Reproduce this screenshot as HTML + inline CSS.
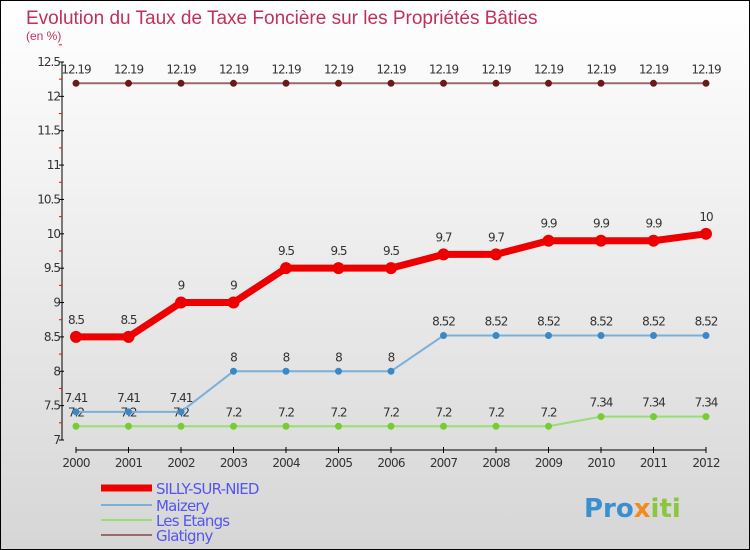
<!DOCTYPE html>
<html><head><meta charset="utf-8"><style>
body{margin:0;}
#c{width:748px;height:548px;border:1px solid #000;background:linear-gradient(#fff,#f3f3f3 30%,#d6d6d6);position:relative;font-family:"DejaVu Sans","Liberation Sans",sans-serif;overflow:hidden}
</style></head><body>
<div id="c">
<svg id="s" width="748" height="548">
<text x="25" y="23" font-size="19" fill="#c0305a" font-family="Liberation Sans">Evolution du Taux de Taxe Foncière sur les Propriétés Bâties</text>
<text x="25" y="39" font-size="12" fill="#c0305a" font-family="Liberation Sans">(en %)</text>
<g id="ax"></g><g id="ser"></g><g id="leg"></g>
<text x="583" y="516" font-size="26" font-weight="bold" fill="#3a8fd0">Pro<tspan fill="#f08c1e">x</tspan><tspan fill="#8cc63e">iti</tspan></text>
</svg></div>
<script>
const years=[2000,2001,2002,2003,2004,2005,2006,2007,2008,2009,2010,2011,2012];
const yTicks=[7,7.5,8,8.5,9,9.5,10,10.5,11,11.5,12,12.5];
const silly=[8.5,8.5,9,9,9.5,9.5,9.5,9.7,9.7,9.9,9.9,9.9,10];
const maizery=[7.41,7.41,7.41,8,8,8,8,8.52,8.52,8.52,8.52,8.52,8.52];
const etangs=[7.2,7.2,7.2,7.2,7.2,7.2,7.2,7.2,7.2,7.2,7.34,7.34,7.34];
const glatigny=[12.19,12.19,12.19,12.19,12.19,12.19,12.19,12.19,12.19,12.19,12.19,12.19,12.19];
const NS='http://www.w3.org/2000/svg';
const X=i=>75+i*52.5, Y=v=>439-(v-7)/5.5*378;
function mk(p,t,a){const e=document.createElementNS(NS,t);for(const k in a)e.setAttribute(k,a[k]);p.appendChild(e);return e;}
const ax=document.getElementById('ax');
let e=mk(ax,'line',{x1:61,y1:Y(12.5),x2:61,y2:Y(7),stroke:'#000'});

e=mk(ax,'line',{x1:X(0),y1:449,x2:X(12),y2:449,stroke:'#000'});

yTicks.forEach(v=>{mk(ax,'line',{x1:58,x2:63,y1:Y(v),y2:Y(v),stroke:'#000'});
 mk(ax,'line',{x1:58,x2:61,y1:Y(v+0.25),y2:Y(v+0.25),stroke:'red'});
 const t=mk(ax,'text',{x:59,y:Y(v)+4,'font-size':12,fill:'#333','text-anchor':'end','letter-spacing':'-1'});t.textContent=v;
 });
years.forEach((y,i)=>{mk(ax,'line',{x1:X(i),x2:X(i),y1:446,y2:452,stroke:'#000'});
 const t=mk(ax,'text',{x:X(i),y:466,'font-size':12,fill:'#333','text-anchor':'middle','letter-spacing':'-0.8'});t.textContent=y;
 });
const ser=document.getElementById('ser');
function series(name,d,col,fill,w,r){
 const g=mk(ser,'g',{});
 const p=mk(g,'polyline',{points:d.map((v,i)=>X(i)+','+Y(v)).join(' '),fill:'none',stroke:col,'stroke-width':w});
 
 d.forEach((v,i)=>{const c=mk(g,'circle',{cx:X(i),cy:Y(v),r:r,fill:fill});
  
  const t=mk(g,'text',{x:X(i),y:Y(v)-10-(w>4?3:0),'font-size':12,fill:'#333','text-anchor':'middle','letter-spacing':'-1'});t.textContent=v;
  });
}
series('glatigny',glatigny,'#9a6a6a','#6a1a1a',2,3.5);
series('etangs',etangs,'#99dd77','#77cc33',2,3.5);
series('maizery',maizery,'#7ab0d8','#3a88c8',2,3.5);
series('silly',silly,'#ee0000','#ee0000',7,6);
const leg=document.getElementById('leg');
[['SILLY-SUR-NIED','#ee0000',7,491],['Maizery','#7ab0d8',2,508],['Les Etangs','#99dd77',2,523],['Glatigny','#9a6a6a',2,538]].forEach(l=>{
 const g=mk(leg,'g',{});
 mk(g,'line',{x1:100,x2:151,y1:l[3]-4,y2:l[3]-4,stroke:l[1],'stroke-width':l[2]});
 const t=mk(g,'text',{x:155,y:l[3]+2,'font-size':15,fill:'#5555ee','letter-spacing':'-0.8'});t.textContent=l[0];
});
</script></body></html>
